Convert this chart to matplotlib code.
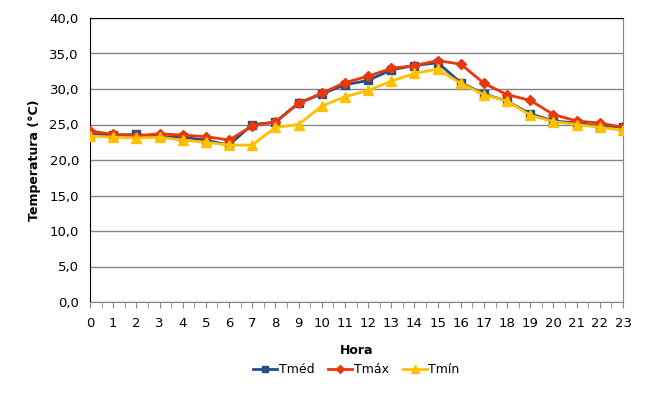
import numpy as np
import matplotlib.pyplot as plt
from matplotlib.ticker import MultipleLocator, FuncFormatter

horas = list(range(24))
t_med = [23.6, 23.5, 23.6, 23.3, 23.2, 22.8, 22.1, 25.0, 25.3, 28.0, 29.3, 30.6,
         31.2, 32.7, 33.3, 33.7, 30.9, 29.3, 28.3, 26.5, 25.5, 25.2, 24.7, 24.7]
t_max = [24.1, 23.6, 23.4, 23.7, 23.5, 23.3, 22.8, 24.8, 25.4, 28.0, 29.4, 30.9,
         31.8, 32.9, 33.3, 34.0, 33.5, 30.8, 29.2, 28.4, 26.4, 25.5, 25.2, 24.6]
t_min = [23.4, 23.2, 23.1, 23.2, 22.8, 22.5, 22.1, 22.1, 24.6, 25.0, 27.6, 28.9,
         29.8, 31.1, 32.2, 32.8, 30.8, 29.2, 28.3, 26.3, 25.4, 25.0, 24.6, 24.2]

plt.rcParams['font.family'] = ['DejaVu Sans']

fig = plt.figure(figsize=(6.64, 4.0), dpi=100)
ax = fig.add_axes([90/664, 1-302/400, 533/664, 284/400])

ax.plot(horas, t_med, color='#254E84', marker='s', markersize=5.5, lw=2, label='Tméd', zorder=3)
ax.plot(horas, t_max, color='#E8380D', marker='D', markersize=5.5, lw=2, label='Tmáx', zorder=4)
ax.plot(horas, t_min, color='#FFC000', marker='^', markersize=6.5, lw=2, label='Tmín', zorder=5)

ax.set_xlim(0, 23)
ax.set_ylim(0, 40)
ax.yaxis.set_major_locator(MultipleLocator(5))
ax.yaxis.set_major_formatter(FuncFormatter(lambda v, p: ('%.1f' % v).replace('.', ',')))
ax.set_xticks(horas)
ax.xaxis.set_minor_locator(MultipleLocator(0.5))
ax.grid(axis='y', color='#868686', lw=1)
ax.set_axisbelow(True)

for s in ['left', 'top']:
    ax.spines[s].set_color('black')
for s in ['right', 'bottom']:
    ax.spines[s].set_color('#868686')
ax.tick_params(axis='y', length=0, labelsize=9.5, pad=8)
ax.tick_params(axis='x', which='both', length=4, color='#868686', labelsize=9.5, pad=7)

ax.set_xlabel('Hora', fontsize=9, fontweight='bold', labelpad=10)
ax.set_ylabel('Temperatura (°C)', fontsize=9, fontweight='bold', labelpad=6)

ax.legend(loc='upper center', bbox_to_anchor=(0.5, -0.175), ncol=3, frameon=False,
          fontsize=9, handlelength=1.9, handletextpad=0.15, columnspacing=1.1,
          markerscale=0.8)

fig.savefig('out.png', dpi=100)
